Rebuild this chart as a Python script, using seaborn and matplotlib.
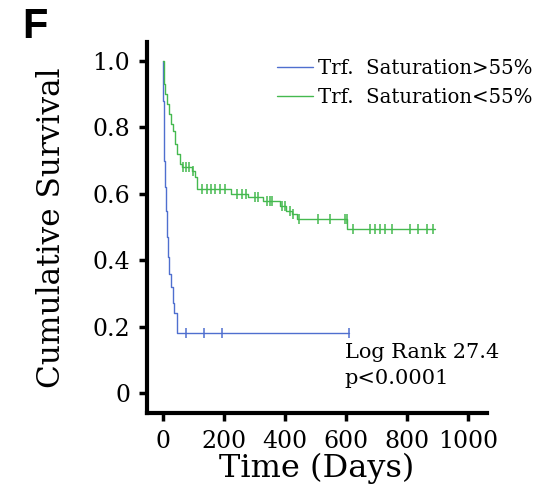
import pandas as pd
import matplotlib
matplotlib.use("Agg")
import matplotlib.pyplot as plt
import seaborn as sns

# Kaplan-Meier step curves
blue_days = [0, 1, 2, 3, 5, 7, 10, 14, 18, 22, 28, 33, 38, 46, 610]
blue_surv = [1.0, 0.94, 0.88, 0.78, 0.70, 0.62, 0.55, 0.47, 0.41, 0.36, 0.32, 0.27, 0.24, 0.18, 0.18]
blue_cens_days = [75, 135, 193, 610]
blue_cens_surv = [0.18, 0.18, 0.18, 0.18]

green_days = [0, 3, 8, 14, 20, 26, 33, 40, 46, 56, 64, 95, 105, 112, 225, 280, 330, 385, 405, 425, 440, 605, 892]
green_surv = [1.0, 0.93, 0.90, 0.87, 0.84, 0.81, 0.79, 0.75, 0.72, 0.69, 0.68, 0.67, 0.65, 0.615,
              0.60, 0.59, 0.58, 0.565, 0.55, 0.54, 0.524, 0.494, 0.494]
green_cens_days = [66, 76, 86, 98, 128, 144, 157, 171, 187, 203, 243, 259, 272, 302, 312, 341, 351, 358,
                   390, 400, 416, 428, 446, 508, 548, 597, 603, 623, 679, 695, 712, 728, 751, 810, 836, 866, 886]
green_cens_surv = [0.68, 0.68, 0.68, 0.67, 0.615, 0.615, 0.615, 0.615, 0.615, 0.615, 0.60, 0.60, 0.60,
                   0.59, 0.59, 0.58, 0.58, 0.58, 0.565, 0.565, 0.55, 0.54, 0.524, 0.524, 0.524, 0.524,
                   0.524, 0.494, 0.494, 0.494, 0.494, 0.494, 0.494, 0.494, 0.494, 0.494, 0.494]

labels = ["Trf.  Saturation>55%", "Trf.  Saturation<55%"]
colors = ["#4f6fcf", "#45b94f"]
x_ticks = [0, 200, 400, 600, 800, 1000]
y_ticks = [0, 0.2, 0.4, 0.6, 0.8, 1.0]
y_tick_labels = ["0", "0.2", "0.4", "0.6", "0.8", "1.0"]

sns.set_style("ticks")
plt.rcParams["font.family"] = ["DejaVu Serif"]
plt.rcParams["text.color"] = "black"
plt.rcParams["axes.labelcolor"] = "black"

fig = plt.figure(figsize=(5.54, 4.9), dpi=100)
ax = fig.add_axes([0.265, 0.157, 0.614, 0.757])

curves = [(blue_days, blue_surv, blue_cens_days, blue_cens_surv),
          (green_days, green_surv, green_cens_days, green_cens_surv)]
for (d, s, cd, cs), lab, col in zip(curves, labels, colors):
    df = pd.DataFrame({"days": d, "surv": s})
    sns.lineplot(data=df, x="days", y="surv", ax=ax, color=col, linewidth=1.0,
                 drawstyle="steps-post", estimator=None, sort=False, label=lab)
    cens = pd.DataFrame({"days": cd, "surv": cs})
    sns.scatterplot(data=cens, x="days", y="surv", ax=ax, color=col, marker="|",
                    s=45, linewidth=1.1, zorder=3)

ax.set_xlim(-52, 1063)
ax.set_ylim(-0.06, 1.057)
ax.set_xticks(x_ticks)
ax.set_yticks(y_ticks)
ax.set_yticklabels(y_tick_labels)
ax.tick_params(axis="both", labelsize=17, length=6, width=2.5, direction="out", pad=6,
               color="black", labelcolor="black")
sns.despine(ax=ax)
for sp in ["left", "bottom"]:
    ax.spines[sp].set_linewidth(3)
    ax.spines[sp].set_color("black")

ax.set_xlabel("Time (Days)", fontsize=23, labelpad=0)
ax.set_ylabel("Cumulative Survival", fontsize=22.5, labelpad=18)

ax.legend(loc="upper left", bbox_to_anchor=(0.483, 0.9), bbox_transform=fig.transFigure,
          frameon=False, fontsize=14.2, handlelength=1.8, handletextpad=0.25, labelspacing=0.5,
          borderpad=0)

ax.text(597, 0.15, "Log Rank 27.4\np<0.0001", fontsize=15, va="top", ha="left", linespacing=1.45)
fig.text(0.04, 0.985, "F", fontsize=30, fontweight="bold", family="Liberation Sans", va="top", ha="left")

plt.savefig("out.png", dpi=100)
